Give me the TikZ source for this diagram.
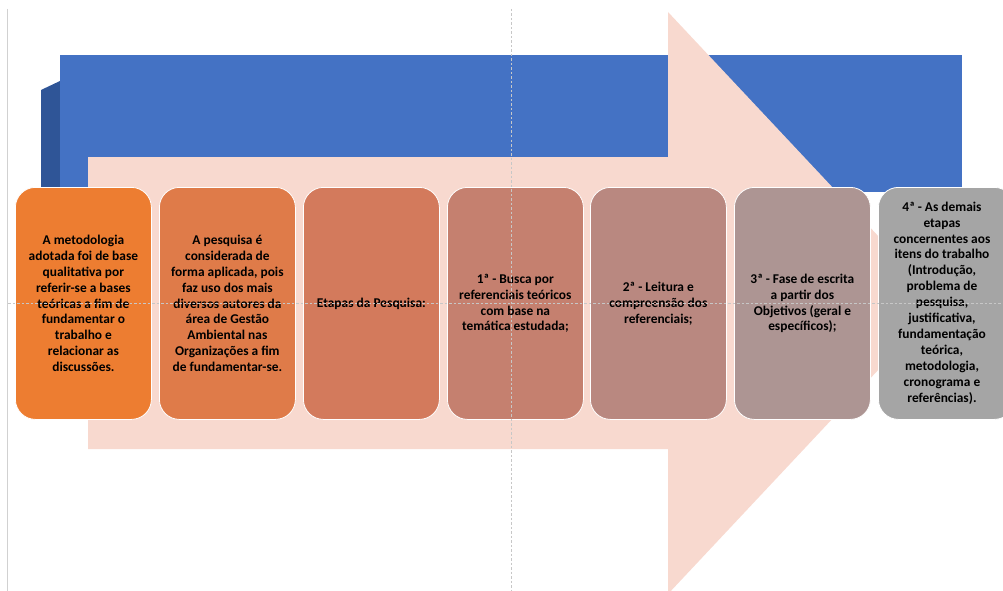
\documentclass[tikz,border=0pt]{standalone}
\usepackage{fontspec}
\setmainfont{Carlito}
\definecolor{bluebar}{HTML}{4472C4}
\definecolor{blueside}{HTML}{2F5597}
\definecolor{arrowpink}{HTML}{F8D9CF}
\definecolor{cA}{HTML}{ED7D31}
\definecolor{cB}{HTML}{DF7B49}
\definecolor{cC}{HTML}{D37A5C}
\definecolor{cD}{HTML}{C5806F}
\definecolor{cE}{HTML}{B98880}
\definecolor{cF}{HTML}{AD9593}
\definecolor{cG}{HTML}{A5A5A5}
\begin{document}
\begin{tikzpicture}[x=1pt,y=-1pt,
  stagetext/.style={align=center, inner sep=0pt,
    font=\bfseries\fontsize{13.4}{15.9}\selectfont},
  stage/.style={stagetext, draw=white, line width=0.8pt, rounded corners=20pt,
    minimum width=136pt, minimum height=232pt, anchor=north west},
  guide/.style={draw=black!22, line width=0.7pt, dash pattern=on 2.5pt off 2pt},
  guidesolid/.style={draw=black!18, line width=0.8pt}]
\useasboundingbox (0,0) rectangle (1003,591);
\clip (0,0) rectangle (1003,591);
% blue bar with 3D side
\fill[blueside] (41,90) -- (60,81) -- (60,192) -- (41,192) -- cycle;
\fill[bluebar] (60,55) rectangle (962,192);
% big pink arrow
\fill[arrowpink] (88,157) -- (668,157) -- (668,12) -- (941,303) -- (668,594)
  -- (668,449) -- (88,449) -- cycle;
% stages
\node[stage, fill=cA] (s1) at (15,187) {A metodologia\\adotada foi de base\\qualitativa por\\referir-se a bases\\teóricas a fim de\\fundamentar o\\trabalho e\\relacionar as\\discussões.};
\node[stage, fill=cB] (s2) at (159,187) {A pesquisa é\\considerada de\\forma aplicada, pois\\faz uso dos mais\\diversos autores da\\área de Gestão\\Ambiental nas\\Organizações a fim\\de fundamentar-se.};
\node[stage, fill=cC] (s3) at (303,187) {Etapas da Pesquisa:};
\node[stage, fill=cD] (s4) at (447,187) {1ª - Busca por\\referenciais teóricos\\com base na\\temática estudada;};
\node[stage, fill=cE] (s5) at (590,187) {2ª - Leitura e\\compreensão dos\\referenciais;};
\node[stage, fill=cF] (s6) at (734,187) {3ª - Fase de escrita\\a partir dos\\Objetivos (geral e\\específicos);};
\node[stage, fill=cG] (s7) at (878,187) {};
\node[stagetext] (t7) at (942,303) {4ª - As demais\\etapas\\concernentes aos\\itens do trabalho\\(Introdução,\\problema de\\pesquisa,\\justificativa,\\fundamentação\\teórica,\\metodologia,\\cronograma e\\referências).};
% guide lines
\draw[guidesolid] (7,9) -- (7,591);
\draw[guide] (511,9) -- (511,591);
\draw[guide] (8,303) -- (1003,303);
\end{tikzpicture}
\end{document}
